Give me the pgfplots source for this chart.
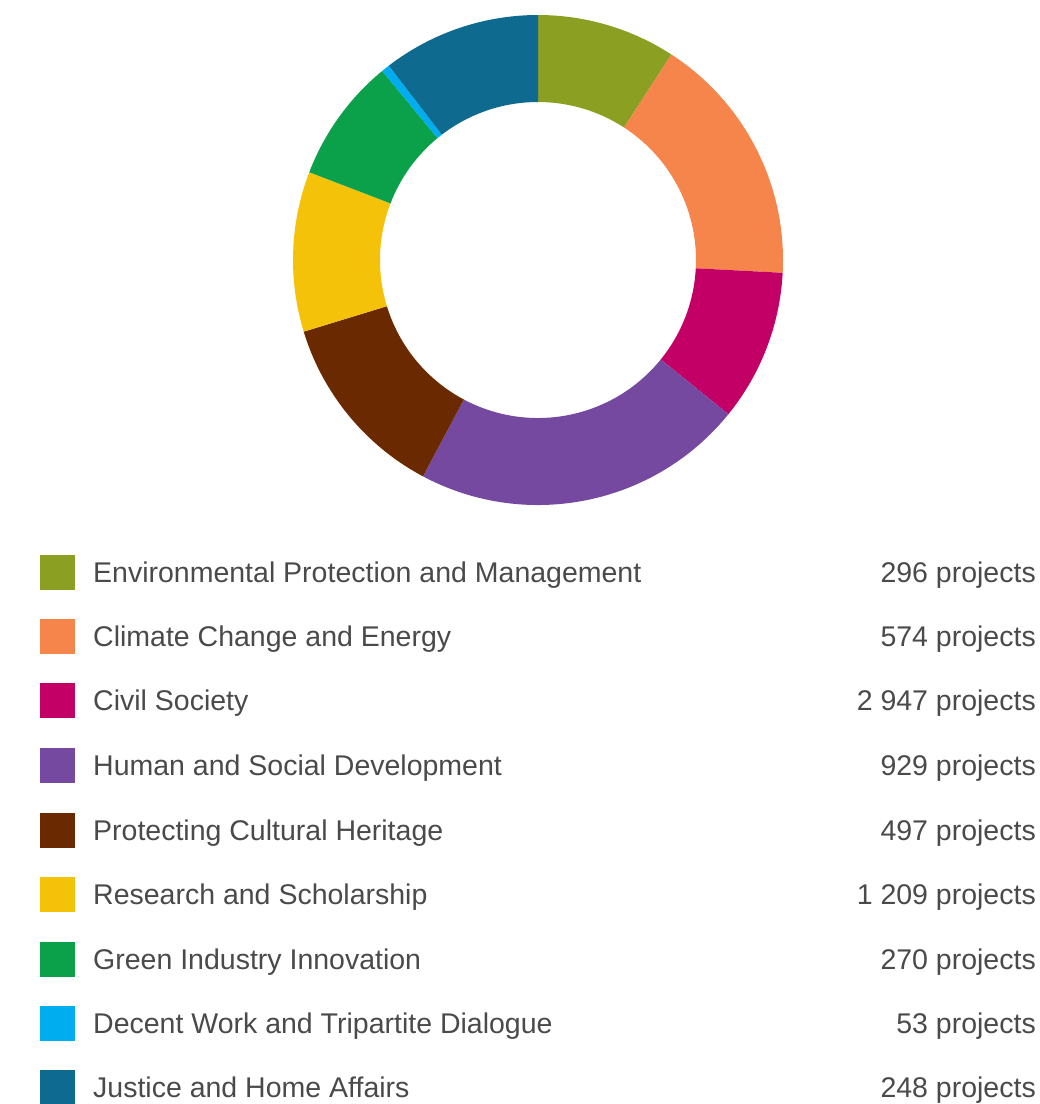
\documentclass[border=0pt]{standalone}
\usepackage{fontspec}
\setmainfont{Liberation Sans}
\usepackage{pgfplots}
\usepackage{pgfplotstable}
\pgfplotsset{compat=1.18}
\definecolor{c0}{HTML}{8BA023}
\definecolor{c1}{HTML}{F5854A}
\definecolor{c2}{HTML}{C30065}
\definecolor{c3}{HTML}{7549A0}
\definecolor{c4}{HTML}{6B2900}
\definecolor{c5}{HTML}{F5C20A}
\definecolor{c6}{HTML}{0BA04A}
\definecolor{c7}{HTML}{00AEEF}
\definecolor{c8}{HTML}{0E6A8E}
\definecolor{txt}{HTML}{4A4A4A}
% slice extents in degrees, clockwise from top
\pgfplotstableread[col sep=semicolon]{
start;end;col;rowy;name;count
0;33;c0;572;Environmental Protection and Management;296 projects
33;93;c1;636;Climate Change and Energy;574 projects
93;129;c2;700;Civil Society;2 947 projects
129;208;c3;765;Human and Social Development;929 projects
208;253;c4;830;Protecting Cultural Heritage;497 projects
253;291;c5;894;Research and Scholarship;1 209 projects
291;320.5;c6;959;Green Industry Innovation;270 projects
320.5;322.5;c7;1023;Decent Work and Tripartite Dialogue;53 projects
322.5;360;c8;1087;Justice and Home Affairs;248 projects
}\slices
\begin{document}
\begin{tikzpicture}
\useasboundingbox (0,0) rectangle (1040pt,1104pt);
\begin{axis}[
  at={(0,0)}, anchor=south west,
  width=1040pt, height=1104pt, scale only axis,
  xmin=0, xmax=1040, ymin=0, ymax=1104, y dir=reverse,
  hide axis, clip=false,
]
\pgfplotsinvokeforeach{0,...,8}{
  \pgfplotstablegetelem{#1}{start}\of\slices \let\sa\pgfplotsretval
  \pgfplotstablegetelem{#1}{end}\of\slices \let\sb\pgfplotsretval
  \pgfplotstablegetelem{#1}{col}\of\slices \let\sc\pgfplotsretval
  \pgfplotstablegetelem{#1}{rowy}\of\slices \let\ry\pgfplotsretval
  \pgfplotstablegetelem{#1}{name}\of\slices \let\nm\pgfplotsretval
  \pgfplotstablegetelem{#1}{count}\of\slices \let\ct\pgfplotsretval
  \edef\tmp{%
    \noexpand\fill[\sc] (axis cs:538,260) ++({90-\sa}:245pt)
      arc[start angle={90-\sa}, end angle={90-\sb}, radius=245pt]
      -- ++({90-\sb}:-87pt)
      arc[start angle={90-\sb}, end angle={90-\sa}, radius=158pt] -- cycle;
    \noexpand\fill[\sc] (axis cs:40,\ry-17.5) rectangle (axis cs:75,\ry+17.5);
    \noexpand\node[anchor=base west, inner sep=0pt, text=txt, font=\noexpand\fontsize{28.5}{34}\noexpand\selectfont] at (axis cs:93,\ry+10.5) {\nm};
    \noexpand\node[anchor=base east, inner sep=0pt, text=txt, font=\noexpand\fontsize{28.5}{34}\noexpand\selectfont] at (axis cs:1036,\ry+10.5) {\ct};
  }%
  \tmp
}
\end{axis}
\end{tikzpicture}
\end{document}
